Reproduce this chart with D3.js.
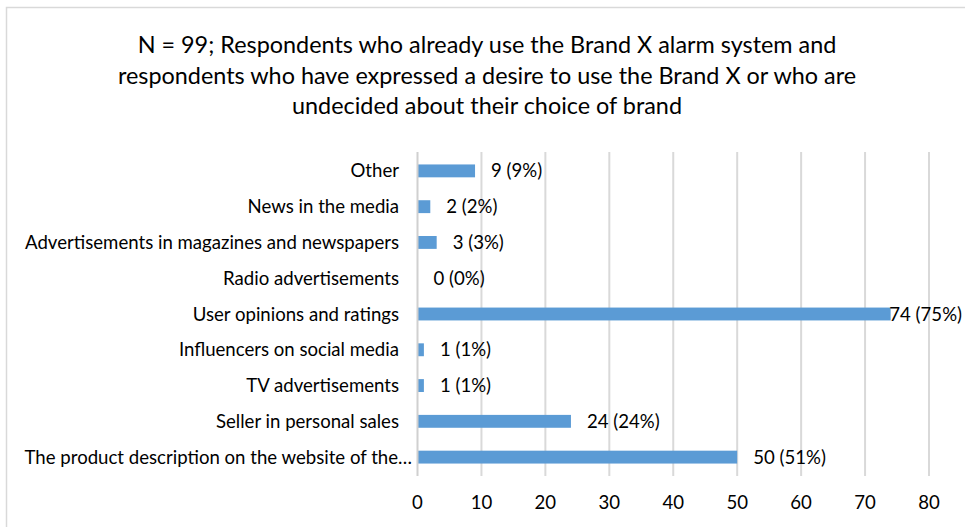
<!DOCTYPE html>
<html>
<head>
<meta charset="utf-8">
<script src="https://cdn.jsdelivr.net/npm/d3@7"></script>
<style>
  html, body { margin: 0; padding: 0; background: #fff; }
  svg { display: block; }
  text { font-family: Lato, "Open Sans", sans-serif; fill: #000; }
</style>
</head>
<body>
<svg id="chart" width="965" height="527"></svg>
<script>
// Sources of information, ordered top to bottom as drawn
const categories = [
  "Other",
  "News in the media",
  "Advertisements in magazines and newspapers",
  "Radio advertisements",
  "User opinions and ratings",
  "Influencers on social media",
  "TV advertisements",
  "Seller in personal sales",
  "The product description on the website of the\u2026"
];
const counts = [9, 2, 3, 0, 74, 1, 1, 24, 50];
const percents = [9, 2, 3, 0, 75, 1, 1, 24, 51];
const xTicks = [0, 10, 20, 30, 40, 50, 60, 70, 80];
const titleLines = [
  "N = 99; Respondents who already use the Brand X alarm system and",
  "respondents who have expressed a desire to use the Brand X or who are",
  "undecided about their choice of brand"
];

const W = 965, H = 527;
const labelSize = 18.6;
const svg = d3.select("#chart");

// chart frame
svg.append("rect")
  .attr("x", 6.5).attr("y", 7.5)
  .attr("width", W + 10).attr("height", H + 10)
  .attr("fill", "none").attr("stroke", "#d9d9d9").attr("stroke-width", 1.5);

// title
svg.append("g").selectAll("text")
  .data(titleLines)
  .join("text")
  .attr("x", 487)
  .attr("y", (d, i) => 53 + i * 30.5)
  .attr("text-anchor", "middle")
  .attr("font-size", 23.4)
  .text(d => d);

const x = d3.scaleLinear().domain([0, 80]).range([417.5, 929]);
const y = d3.scaleBand().domain(categories).range([153, 475]).paddingInner(0.64).paddingOuter(0.32);

// vertical gridlines
svg.append("g").selectAll("line")
  .data(xTicks.slice(1))
  .join("line")
  .attr("x1", d => x(d)).attr("x2", d => x(d))
  .attr("y1", 152).attr("y2", 476)
  .attr("stroke", "#d9d9d9").attr("stroke-width", 2);

// bars
svg.append("g").selectAll("rect")
  .data(categories)
  .join("rect")
  .attr("x", x(0))
  .attr("y", d => y(d))
  .attr("width", (d, i) => x(counts[i]) - x(0))
  .attr("height", y.bandwidth())
  .attr("fill", "#5b9bd5");

// category axis line
svg.append("line")
  .attr("x1", x(0)).attr("x2", x(0))
  .attr("y1", 152).attr("y2", 476)
  .attr("stroke", "#d0d0d0").attr("stroke-width", 2);

// category labels; a truncated label lets its ellipsis hang past the right edge
svg.append("g").selectAll("text")
  .data(categories)
  .join("text")
  .attr("x", d => d.endsWith("\u2026") ? 412 : 399)
  .attr("y", d => y(d) + y.bandwidth() / 2)
  .attr("dy", "0.35em")
  .attr("text-anchor", "end")
  .attr("font-size", labelSize)
  .text(d => d);

// value labels; kept inside the chart's right edge
const valueLabels = svg.append("g").selectAll("text")
  .data(categories)
  .join("text")
  .attr("y", d => y(d) + y.bandwidth() / 2)
  .attr("dy", "0.35em")
  .attr("font-size", labelSize)
  .text((d, i) => `${counts[i]} (${percents[i]}%)`);
valueLabels.each(function (d, i) {
  const w = this.getComputedTextLength();
  const px = Math.min(x(counts[i]) + 16, W - 3 - w);
  d3.select(this).attr("x", px);
});

// value axis tick labels
svg.append("g").selectAll("text")
  .data(xTicks)
  .join("text")
  .attr("x", d => x(d))
  .attr("y", 502)
  .attr("dy", "0.35em")
  .attr("text-anchor", "middle")
  .attr("font-size", labelSize)
  .text(d => d);
</script>
</body>
</html>
